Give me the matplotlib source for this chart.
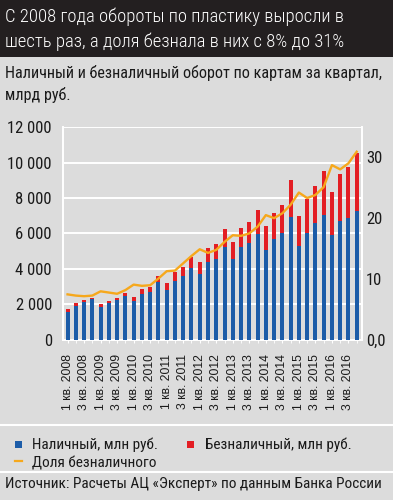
import matplotlib
matplotlib.use("Agg")
import matplotlib.pyplot as plt
from matplotlib import font_manager
from matplotlib.ft2font import FT2Font
from matplotlib.patches import Rectangle
from matplotlib.lines import Line2D
import numpy as np

# ---------------- data ----------------
quarters = [f"{q} кв. {y}" for y in range(2008, 2017) for q in (1, 2, 3, 4)]
cash = [1566, 1887, 2113, 2264, 1811, 2076, 2208, 2453, 2189, 2547, 2698, 3264,
        2793, 3321, 3585, 4019, 3680, 4397, 4548, 5246, 4529, 5246, 5472, 5944,
        5057, 5661, 6001, 6944, 5302, 6038, 6567, 7039, 5887, 6680, 6850, 7265]
noncash = [151, 151, 114, 95, 170, 113, 132, 189, 189, 302, 283, 321,
           377, 472, 491, 661, 679, 792, 830, 981, 962, 1038, 1189, 1378,
           1359, 1472, 1604, 2076, 1680, 1887, 2113, 2490, 2454, 2661, 2925, 3302]
share = [7.4, 7.2, 7.1, 7.2, 7.9, 7.7, 7.5, 8.1, 9.0, 8.8, 8.9, 10.0,
         11.2, 11.3, 12.5, 13.7, 14.8, 14.2, 14.7, 16.0, 17.1, 17.0, 17.4, 18.5,
         20.4, 19.9, 20.7, 22.1, 24.1, 23.2, 23.7, 25.0, 28.6, 27.9, 28.9, 30.8]
left_ticks = [0, 2000, 4000, 6000, 8000, 10000, 12000]
left_labels = ["0", "2 000", "4 000", "6 000", "8 000", "10 000", "12 000"]
right_ticks = [0, 10, 20, 30]
right_labels = ["0,0", "10", "20", "30"]

title_lines = ["С 2008 года обороты по пластику выросли в",
               "шесть раз, а доля безнала в них с 8% до 31%"]
subtitle_lines = ["Наличный и безналичный оборот по картам за квартал,",
                  "млрд руб."]
legend_labels = ["Наличный, млн руб.", "Безналичный, млн руб.", "Доля безналичного"]
source = "Источник: Расчеты АЦ «Эксперт» по данным Банка России"

# ---------------- fonts ----------------
def has_cyrillic(name):
    try:
        path = font_manager.findfont(font_manager.FontProperties(family=name),
                                     fallback_to_default=False)
        f = FT2Font(path)
        return all(f.get_char_index(ord(c)) != 0 for c in "ДжыЭ«»")
    except Exception:
        return False

def pick(cands, default):
    for c in cands:
        if has_cyrillic(c):
            return c
    return default

NARROW = pick(["Roboto Condensed", "PT Sans Narrow", "Fira Sans Condensed",
               "Sofia Sans Condensed", "IBM Plex Sans Condensed",
               "Open Sans Condensed", "Liberation Sans Narrow"], "DejaVu Sans")
REG = pick(["Liberation Sans", "Arimo"], "DejaVu Sans")

BG = "#dcdcdc"
DARK = "#231f20"
BLUE = "#1c5ca8"
RED = "#e31e24"
ORANGE = "#f6a81c"
TXT = "#1a1a1a"

W, H = 393, 500
fig = plt.figure(figsize=(W / 100, H / 100), dpi=100, facecolor=BG)

def fx(x):
    return x / W

def fy(y):
    return 1 - y / H

# title bar
fig.patches.append(Rectangle((0, fy(57)), 1, 57 / H, transform=fig.transFigure,
                             facecolor=DARK, edgecolor="none", zorder=0))
fig.text(fx(5), fy(22), title_lines[0], color="white", fontsize=13.4,
         family=NARROW, weight="light", va="baseline", ha="left")
fig.text(fx(5), fy(47), title_lines[1], color="white", fontsize=13.4,
         family=NARROW, weight="light", va="baseline", ha="left")

fig.text(fx(5), fy(78), subtitle_lines[0], color=TXT, fontsize=11.6,
         family=NARROW, va="baseline", ha="left")
fig.text(fx(5), fy(100), subtitle_lines[1], color=TXT, fontsize=11.6,
         family=NARROW, va="baseline", ha="left")

# ---------------- chart ----------------
left, right = 63, 362
top, bottom = 127.3, 339.5
ax = fig.add_axes([fx(left), fy(bottom), (right - left) / W, (bottom - top) / H])
ax.set_facecolor(BG)
x = np.arange(len(quarters))
ax.bar(x, cash, width=0.48, color=BLUE, zorder=3)
ax.bar(x, noncash, bottom=cash, width=0.48, color=RED, zorder=3)
ax.set_xlim(-0.55, len(quarters) - 1 + 0.64)
ax.set_ylim(0, 12000)
ax.set_yticks(left_ticks)
ax.set_yticklabels(left_labels, family=NARROW, fontsize=12, color=TXT)
ax.yaxis.grid(True, color="white", lw=1.4, zorder=1)
ax.tick_params(axis="y", length=0, pad=8)
for s in ("left", "right", "bottom"):
    ax.spines[s].set_color("white")
    ax.spines[s].set_linewidth(1.4)
ax.spines["top"].set_visible(False)
ax.set_xticks(x[::2])
ax.set_xticklabels(quarters[::2], rotation=90, family=REG, fontsize=8.7,
                   color=TXT, va="top", ha="center")
ax.set_xticks(x, minor=True)
ax.tick_params(axis="x", which="both", length=2.5, color="white", pad=8)

ax2 = ax.twinx()
ax2.plot(x, share, color=ORANGE, lw=1.7, zorder=5, solid_joinstyle="round")
ax2.set_ylim(0, 34.8)
ax2.set_yticks(right_ticks)
ax2.set_yticklabels(right_labels, family=NARROW, fontsize=12, color=TXT)
ax2.tick_params(axis="y", length=0, pad=3)
for s in ("left", "right", "bottom", "top"):
    ax2.spines[s].set_visible(False)
ax2.patch.set_visible(False)

# ---------------- legend / footer ----------------
fig.add_artist(Line2D([0, 1], [fy(425), fy(425)], transform=fig.transFigure,
                      color="white", lw=1.5))
fig.add_artist(Line2D([0, 1], [fy(472), fy(472)], transform=fig.transFigure,
                      color="white", lw=1.5))
fig.patches.append(Rectangle((fx(15), fy(447.5)), 7 / W, 7 / H, transform=fig.transFigure,
                             facecolor=BLUE, edgecolor="none"))
fig.patches.append(Rectangle((fx(187), fy(447.5)), 7 / W, 7 / H, transform=fig.transFigure,
                             facecolor=RED, edgecolor="none"))
fig.add_artist(Line2D([fx(15), fx(22)], [fy(461), fy(461)], transform=fig.transFigure,
                      color=ORANGE, lw=1.6))
fig.text(fx(32), fy(449), legend_labels[0], color=TXT, fontsize=11,
         family=NARROW, va="baseline")
fig.text(fx(205), fy(449), legend_labels[1], color=TXT, fontsize=11,
         family=NARROW, va="baseline")
fig.text(fx(32), fy(467), legend_labels[2], color=TXT, fontsize=11,
         family=NARROW, va="baseline")
fig.text(fx(5), fy(488), source, color=TXT, fontsize=11,
         family=NARROW, va="baseline")

fig.savefig("out.png", dpi=100, facecolor=BG)
